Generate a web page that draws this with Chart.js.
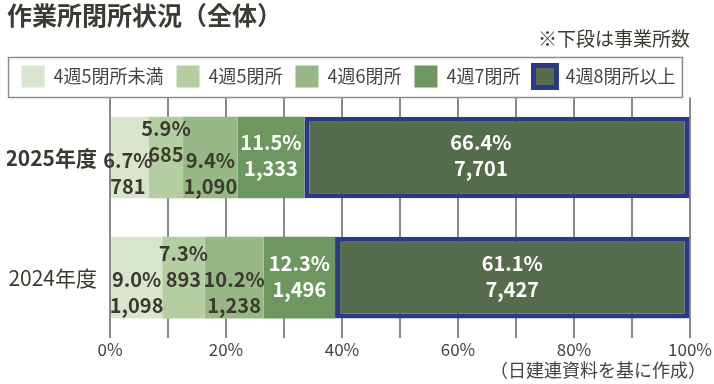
<!DOCTYPE html>
<html>
<head>
<meta charset="utf-8">
<script src="https://cdn.jsdelivr.net/npm/chart.js@4"></script>
<style>
  html, body { margin: 0; padding: 0; background: #fff; }
  #wrap { width: 714px; height: 384px; }
</style>
</head>
<body>
<div id="wrap"><canvas id="closeChart" width="714" height="384"></canvas></div>
<script>
// 年度
const years = ['2025年度', '2024年度'];
// 区分
const groups = ['4週5閉所未満', '4週5閉所', '4週6閉所', '4週7閉所', '4週8閉所以上'];
// 割合（%）
const share5Less = [6.7, 9.0];
const share5 = [5.9, 7.3];
const share6 = [9.4, 10.2];
const share7 = [11.5, 12.3];
const share8 = [66.4, 61.1];
// 事業所数
const count5Less = [781, 1098];
const count5 = [685, 893];
const count6 = [1090, 1238];
const count7 = [1333, 1496];
const count8 = [7701, 7427];
// 目盛
const tickValues = [0, 20, 40, 60, 80, 100];

const FONT = "'Noto Sans CJK JP', 'Noto Sans', sans-serif";
const colors = ['#d9e5cd', '#b4cea1', '#97b786', '#6d975f', '#566d4d'];
const textColors = ['#3a3a2e', '#3a3a2e', '#3a3a2e', '#ffffff', '#ffffff'];
// ラベルの位置の微調整（データセット × 年度）
const nudgeY = [[16, 15], [-16, -11], [16, 15], [-2, -1], [-2, -1]];
const nudgeX = [[-2, 0], [0, 0], [0, 0], [0, 0], [-16, 0]];

const shares = [share5Less, share5, share6, share7, share8];
const counts = [count5Less, count5, count6, count7, count8];

// 棒の中のラベル、凡例の枠、出典
const labelPlugin = {
    id: 'labelPlugin',
    afterDatasetsDraw(chart) {
        const ctx = chart.ctx;
        ctx.save();
        ctx.font = `bold 20px ${FONT}`;
        ctx.textAlign = 'center';
        ctx.textBaseline = 'middle';
        chart.data.datasets.forEach((ds, i) => {
            chart.getDatasetMeta(i).data.forEach((bar, j) => {
                const cx = (bar.x + bar.base) / 2 + nudgeX[i][j];
                const cy = bar.y + nudgeY[i][j];
                ctx.fillStyle = textColors[i];
                ctx.fillText(shares[i][j].toFixed(1) + '%', cx, cy - 13);
                ctx.fillText(counts[i][j].toLocaleString('en-US'), cx, cy + 13);
            });
        });
        ctx.restore();
    },
    afterDraw(chart) {
        const ctx = chart.ctx;
        const boxes = chart.legend.legendHitBoxes;
        if (boxes && boxes.length) {
            const left = Math.min(...boxes.map(b => b.left)) - 13;
            const right = Math.max(...boxes.map(b => b.left + b.width)) + 7;
            const top = boxes[0].top - 8;
            const bottom = boxes[0].top + boxes[0].height + 10;
            ctx.save();
            ctx.strokeStyle = '#8c8c8c';
            ctx.lineWidth = 1.5;
            ctx.strokeRect(left, top, right - left, bottom - top);
            ctx.restore();
        }
        ctx.save();
        ctx.font = `18px ${FONT}`;
        ctx.fillStyle = '#444';
        ctx.textAlign = 'right';
        ctx.textBaseline = 'middle';
        ctx.fillText('（日建連資料を基に作成）', chart.width - 8, 370);
        ctx.restore();
    }
};

window.onload = () => {
    new Chart(document.getElementById('closeChart').getContext('2d'), {
        type: 'bar',
        data: {
            labels: years,
            datasets: groups.map((g, i) => ({
                label: g,
                data: shares[i],
                backgroundColor: colors[i],
                borderColor: i === 4 ? '#2b3a86' : colors[i],
                borderWidth: i === 4 ? 5 : 0,
                borderSkipped: false,
                barPercentage: 0.68,
                categoryPercentage: 1
            }))
        },
        options: {
            indexAxis: 'y',
            responsive: false,
            animation: false,
            layout: { padding: { left: 7, right: 24, top: 2, bottom: 22 } },
            scales: {
                x: {
                    stacked: true,
                    min: 0,
                    max: 100,
                    ticks: {
                        stepSize: 10,
                        padding: 2,
                        color: '#444',
                        font: { family: FONT, size: 17 },
                        callback: v => tickValues.includes(v) ? v + '%' : ''
                    },
                    grid: { color: '#8a8a8a', lineWidth: 2, drawTicks: false },
                    border: { display: false }
                },
                y: {
                    stacked: true,
                    afterFit: scale => { scale.width = 103; },
                    ticks: {
                        padding: 13,
                        color: '#3a3a30',
                        font: ctx => ({ family: FONT, size: 21, weight: ctx.index === 0 ? 'bold' : 'normal' })
                    },
                    grid: { display: false, drawTicks: false },
                    border: { display: false }
                }
            },
            plugins: {
                title: {
                    display: true,
                    text: '作業所閉所状況（全体）',
                    align: 'start',
                    color: '#3b3b33',
                    font: { family: FONT, size: 25, weight: 'bold', lineHeight: 1.1 },
                    padding: { top: 0, bottom: 0 }
                },
                subtitle: {
                    display: true,
                    text: '※下段は事業所数',
                    align: 'end',
                    color: '#3b3b33',
                    font: { family: FONT, size: 19, lineHeight: 1.0 },
                    padding: { top: 0, bottom: 4 }
                },
                legend: {
                    position: 'top',
                    labels: {
                        boxWidth: 23,
                        boxHeight: 22,
                        padding: 13,
                        color: '#444',
                        font: { family: FONT, size: 18 }
                    }
                },
                tooltip: { enabled: false }
            }
        },
        plugins: [labelPlugin]
    });
};
</script>
</body>
</html>
